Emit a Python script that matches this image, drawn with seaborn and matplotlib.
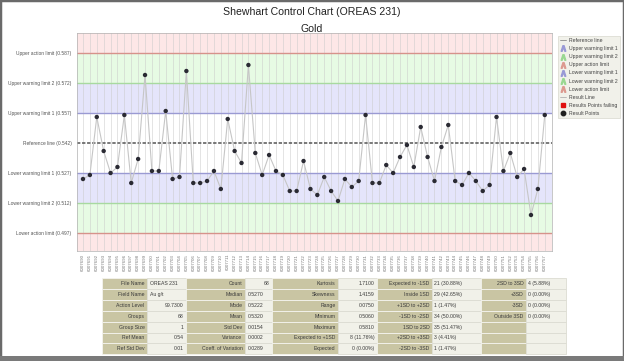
import numpy as np
import pandas as pd
import matplotlib.pyplot as plt
from matplotlib.lines import Line2D
from matplotlib.patches import Rectangle
import seaborn as sns

# sample ids along the x axis
sample_ids = [
    "6007690", "6007691", "6007692", "6007693", "6007694", "6007695", "6007696", "6007697",
    "6007698", "6007699", "6007700", "6007701", "6007702", "6007703", "6007704", "6007705",
    "6007706", "6007707", "6007708", "6007709", "6007710", "6007711", "6007712", "6007713",
    "6007714", "6007715", "6007716", "6007717", "6007718", "6007719", "6007720", "6007721",
    "6007722", "6007723", "6007724", "6007725", "6007726", "6007727", "6007728", "6007729",
    "6007730", "6007731", "6007732", "6007733", "6007734", "6007735", "6007736", "6007737",
    "6007738", "6007739", "6007740", "6007741", "6007742", "6007743", "6007744", "6007745",
    "6007746", "6007747", "6007748", "6007749", "6007750", "6007751", "6007752", "6007753",
    "6007754", "6007755", "6007756", "6007757",
]

# gold results (g/t)
gold = [
    0.524, 0.526, 0.555, 0.538, 0.527, 0.530, 0.556, 0.522, 0.534, 0.576,
    0.528, 0.528, 0.558, 0.524, 0.525, 0.578, 0.522, 0.522, 0.523, 0.528,
    0.519, 0.554, 0.538, 0.532, 0.581, 0.537, 0.526, 0.536, 0.528, 0.526,
    0.518, 0.518, 0.533, 0.519, 0.516, 0.525, 0.518, 0.513, 0.524, 0.520,
    0.523, 0.556, 0.522, 0.522, 0.531, 0.527, 0.535, 0.541, 0.530, 0.550,
    0.535, 0.523, 0.540, 0.551, 0.523, 0.521, 0.527, 0.523, 0.518, 0.521,
    0.555, 0.528, 0.537, 0.525, 0.529, 0.506, 0.519, 0.556,
]

limit_names = ["Upper action limit", "Upper warning limit 2", "Upper warning limit 1",
               "Reference line", "Lower warning limit 1", "Lower warning limit 2",
               "Lower action limit"]
limit_values = [0.587, 0.572, 0.557, 0.542, 0.527, 0.512, 0.497]

# statistics table
col1_labels = ["File Name", "Field Name", "Action Level", "Groups", "Group Size", "Ref Mean", "Ref Std Dev"]
col1_values = ["OREAS 231", "Au g/t", "99.7300", "68", "1", "0.54", "0.01"]
col2_labels = ["Count", "Median", "Mode", "Mean", "Std Dev", "Variance", "Coeff. of Variation"]
col2_values = ["68", "0.5270", "0.5222", "0.5320", "0.0154", "0.0002", "0.0289"]
col3_labels = ["Kurtosis", "Skewness", "Range", "Minimum", "Maximum", "Expected to +1SD", "Expected"]
col3_values = ["1.7100", "1.4159", "0.0750", "0.5060", "0.5810", "8 (11.76%)", "0 (0.00%)"]
col4_labels = ["Expected to -1SD", "Inside 1SD", "+1SD to +2SD", "-1SD to -2SD", "1SD to 2SD",
               "+2SD to +3SD", "-2SD to -3SD"]
col4_values = ["21 (30.88%)", "29 (42.65%)", "1 (1.47%)", "34 (50.00%)", "35 (51.47%)",
               "3 (4.41%)", "1 (1.47%)"]
col5_labels = ["2SD to 3SD", "+3SD", "-3SD", "Outside 3SD", "", "", ""]
col5_values = ["4 (5.88%)", "0 (0.00%)", "0 (0.00%)", "0 (0.00%)", "", "", ""]

df = pd.DataFrame({"idx": np.arange(len(gold)), "value": gold})

sns.set_style("white")
plt.rcParams['font.family'] = ['Liberation Sans', 'DejaVu Sans']

W, H = 624, 361
fig = plt.figure(figsize=(W / 100, H / 100), dpi=100)
ax = fig.add_axes([77 / W, 1 - 251 / H, 475 / W, 218 / H])

# coloured zones
pink, green, lav = "#fde7e7", "#e7fbe4", "#e5e5fb"
ax.axhspan(limit_values[0], 0.7, color=pink, lw=0, zorder=0)
ax.axhspan(limit_values[1], limit_values[0], color=green, lw=0, zorder=0)
ax.axhspan(limit_values[2], limit_values[1], color=lav, lw=0, zorder=0)
ax.axhspan(limit_values[5], limit_values[4], color=lav, lw=0, zorder=0)
ax.axhspan(limit_values[6], limit_values[5], color=green, lw=0, zorder=0)
ax.axhspan(0.4, limit_values[6], color=pink, lw=0, zorder=0)

for i in df["idx"]:
    ax.axvline(i, color="#c9c9c9", lw=0.5, alpha=0.7, zorder=1)

line_cols = ["#d6928b", "#a8d9a0", "#9a9ad3", "#555555", "#9a9ad3", "#a8d9a0", "#d6928b"]
for v, c in zip(limit_values, line_cols):
    if v == limit_values[3]:
        ax.axhline(v, color=c, lw=1.1, ls=(0, (2.2, 1.1)), zorder=2)
    else:
        ax.axhline(v, color=c, lw=1.0, zorder=2)

sns.lineplot(data=df, x="idx", y="value", color="#c6c6c6", lw=0.8, ax=ax, zorder=3)
sns.scatterplot(data=df, x="idx", y="value", color="#2a2a33", s=10, edgecolor="none",
                ax=ax, zorder=4, legend=False)

ax.set_xlim(-0.87, 68.05)
ax.set_ylim(0.488, 0.597)
ax.set_yticks(limit_values)
ax.set_yticklabels([f"{n} ({v:.3f})" for n, v in zip(limit_names, limit_values)],
                   fontsize=3.5, color="#555555")
ax.set_xticks(df["idx"])
ax.set_xticklabels(sample_ids, rotation=90, fontsize=3.2, color="#777777")
ax.tick_params(axis="y", length=3, width=0.5, color="#888888", pad=1)
ax.tick_params(axis="x", length=0, pad=2)
ax.set_xlabel("")
ax.set_ylabel("")
for s in ax.spines.values():
    s.set_color("#b0b0b0")
    s.set_linewidth(0.5)

fig.text(312 / W, 1 - 12 / H, "Shewhart Control Chart (OREAS 231)", ha="center", va="center",
         fontsize=7.6, color="#222222")
fig.text(312 / W, 1 - 29 / H, "Gold", ha="center", va="center", fontsize=7.6, color="#222222")

# legend
caret = r"$\wedge$"
handles = [
    Line2D([], [], color="#8c8c8c", lw=0.6),
    Line2D([], [], color="#9a9ad6", marker=caret, ls="none", ms=4),
    Line2D([], [], color="#9ad892", marker=caret, ls="none", ms=4),
    Line2D([], [], color="#dc9a90", marker=caret, ls="none", ms=4),
    Line2D([], [], color="#9a9ad6", marker=caret, ls="none", ms=4),
    Line2D([], [], color="#9ad892", marker=caret, ls="none", ms=4),
    Line2D([], [], color="#dc9a90", marker=caret, ls="none", ms=4),
    Line2D([], [], color="#b0b0b0", lw=0.6),
    Line2D([], [], color="#e01010", marker="s", ls="none", ms=3.5),
    Line2D([], [], color="#202020", marker="o", ls="none", ms=3.2),
]
legend_labels = ["Reference line", "Upper warning limit 1", "Upper warning limit 2",
                 "Upper action limit", "Lower warning limit 1", "Lower warning limit 2",
                 "Lower action limit", "Result Line", "Results Points failing", "Result Points"]
leg = fig.legend(handles, legend_labels, loc="upper left", bbox_to_anchor=(555 / W, 1 - 33 / H),
                 fontsize=3.7, frameon=True, fancybox=False, framealpha=1, handlelength=1.2,
                 handletextpad=0.5, borderpad=0.5, labelspacing=0.6, labelcolor="#444444")
leg.get_frame().set_facecolor("#f1f1ea")
leg.get_frame().set_edgecolor("#d8d8ce")
leg.get_frame().set_linewidth(0.5)

# statistics table drawn in pixel coordinates
tab = fig.add_axes([0, 0, 1, 1], zorder=-1)
tab.set_xlim(0, W)
tab.set_ylim(H, 0)
tab.axis("off")
col_edges = [102, 147, 186, 245, 272, 338, 377, 432, 481, 526, 566]
row_top, row_h = 278, 10.9
columns = [(col1_labels, col1_values, ["l", "l", "r", "r", "r", "r", "r"]),
           (col2_labels, col2_values, ["r", "l", "l", "l", "l", "l", "l"]),
           (col3_labels, col3_values, ["r"] * 7),
           (col4_labels, col4_values, ["l"] * 7),
           (col5_labels, col5_values, ["l"] * 7)]
for c, (labels, values, aligns) in enumerate(columns):
    x0, x1, x2 = col_edges[2 * c], col_edges[2 * c + 1], col_edges[2 * c + 2]
    for r in range(7):
        y = row_top + r * row_h
        tab.add_patch(Rectangle((x0, y), x1 - x0, row_h, fc="#c9c5a3", ec="#f4f4ee", lw=0.6))
        tab.add_patch(Rectangle((x1, y), x2 - x1, row_h, fc="#f1f1e9", ec="#dcdcd2", lw=0.6))
        tab.text(x1 - 2.5, y + row_h / 2, labels[r], ha="right", va="center", fontsize=3.7,
                 color="#3a3a3a")
        if aligns[r] == "r":
            tab.text(x2 - 2.5, y + row_h / 2, values[r], ha="right", va="center", fontsize=3.7,
                     color="#3a3a3a")
        else:
            tab.text(x1 + 2.5, y + row_h / 2, values[r], ha="left", va="center", fontsize=3.7,
                     color="#3a3a3a")

# window frame
tab.add_patch(Rectangle((0, 0), W, H, fc="none", ec="#6a6a6a", lw=2.5))
tab.add_patch(Rectangle((0, 356), W, 5, fc="#7a7a7a", ec="none"))

fig.savefig("out.png", dpi=100)
